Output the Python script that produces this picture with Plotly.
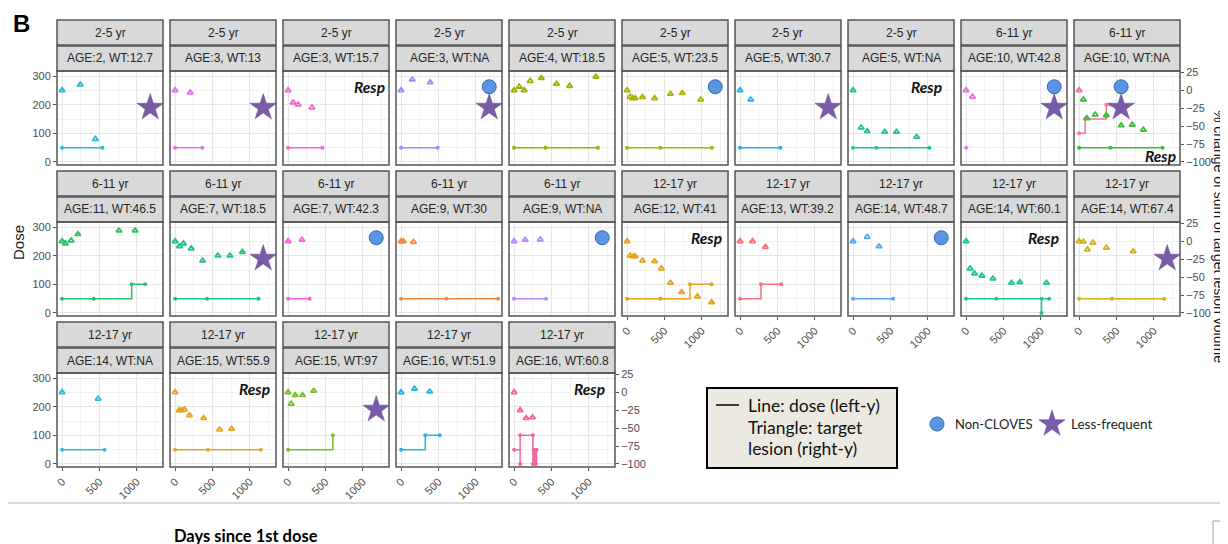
import plotly.graph_objects as go

W, H = 1228, 544

# ---------------- data ----------------
age_groups = ["2-5 yr"] * 8 + ["6-11 yr"] * 7 + ["12-17 yr"] * 10
panel_labels = [
    "AGE:2, WT:12.7", "AGE:3, WT:13", "AGE:3, WT:15.7", "AGE:3, WT:NA", "AGE:4, WT:18.5",
    "AGE:5, WT:23.5", "AGE:5, WT:30.7", "AGE:5, WT:NA", "AGE:10, WT:42.8", "AGE:10, WT:NA",
    "AGE:11, WT:46.5", "AGE:7, WT:18.5", "AGE:7, WT:42.3", "AGE:9, WT:30", "AGE:9, WT:NA",
    "AGE:12, WT:41", "AGE:13, WT:39.2", "AGE:14, WT:48.7", "AGE:14, WT:60.1", "AGE:14, WT:67.4",
    "AGE:14, WT:NA", "AGE:15, WT:55.9", "AGE:15, WT:97", "AGE:16, WT:51.9", "AGE:16, WT:60.8",
]

# one entry per patient series (panel 10 holds two patients)
series_panel = [0, 1, 2, 3, 4, 5, 6, 7, 8, 9, 9,
                10, 11, 12, 13, 14, 15, 16, 17, 18, 19,
                20, 21, 22, 23, 24]
lesion_day = [
    [0, 243, 446], [0, 203], [0, 68, 135, 320], [0, 150, 390],
    [0, 68, 135, 216, 365, 568, 743, 1095],
    [0, 40, 72, 108, 207, 369, 581, 739, 986],
    [0, 144], [0, 108, 189, 423, 581, 851], [0, 86], [0],
    [58, 104, 216, 365, 563, 712, 861],
    [0, 45, 122, 212, 761, 977],
    [0, 58, 112, 216, 369, 572, 734, 901],
    [0, 185], [0, 30, 166], [0, 149, 351],
    [0, 41, 86, 108, 207, 369, 459, 581, 730, 942, 1131],
    [0, 167, 338], [0, 189, 347],
    [0, 54, 113, 212, 360, 608, 720, 1077],
    [0, 58, 112, 185, 365, 725],
    [0, 482], [0, 54, 90, 126, 193, 383, 595, 757], [0, 41, 95, 193, 342],
    [0, 180, 383], [0, 81, 162, 247],
]
lesion_pct = [
    [0, 8, -68], [0, -3], [0, -17, -20, -24], [0, 15, 11],
    [0, 5, 0, 13, 17, 9, 6, 19],
    [0, -9, -11, -11, -9.5, -11, -5, -4, -13],
    [0, -13], [0, -52, -57, -58, -58, -65], [0, -9], [0],
    [-13, -39, -34, -35, -49, -48, -55],
    [0, -3, 1, 10, 15, 15],
    [0, -7, -3, -10, -27, -20, -20, -15],
    [0, 2], [0, 0, -1], [0, 2, 2.5],
    [0, -20, -21, -21, -27, -28, -38, -58, -71, -77, -85],
    [0, 0, -8], [0, 6, -7],
    [0, -38, -45, -48, -52, -58, -57, -58],
    [0, -0.5, -11.5, -2, -9, -14],
    [0, -9], [0, -25, -25, -24, -32, -36, -52, -51], [0, -16, -4, -4, 2],
    [0, 5, 1], [0, -25, -36, -35],
]
dose_day = [
    [0, 540], [0, 365], [0, 460], [0, 490], [0, 420, 1122], [0, 446, 1135],
    [0, 540], [0, 311, 1022], [0], [0, 81, 365, 428], [0, 419, 1118],
    [0, 423, 932, 1112], [0, 428, 1117], [0, 288], [0, 608, 1300], [0, 428],
    [0, 446, 842, 1131], [0, 280, 550], [0, 536], [0, 405, 1010, 1010, 1112],
    [0, 441, 1140],
    [0, 568], [0, 441, 1149], [0, 599], [0, 324, 518],
    [0, 81, 81, 252, 252, 262, 272, 280, 290, 300],
]
dose_mg = [
    [50, 50], [50, 50], [50, 50], [50, 50], [50, 50, 50], [50, 50, 50],
    [50, 50], [50, 50, 50], [50], [100, 150, 200, 200], [50, 50, 50],
    [50, 50, 100, 100], [50, 50, 50], [50, 50], [50, 50, 50], [50, 50],
    [50, 50, 100, 100], [50, 100, 100], [50, 50], [50, 50, 0, 50, 50],
    [50, 50, 50],
    [50, 50], [50, 50, 50], [50, 100], [50, 100, 100],
    [50, 0, 100, 100, 0, 50, 0, 50, 0, 50],
]
series_color = [
    "#1EBFD0", "#E46FEE", "#F564D8", "#9590FF", "#A0AE00", "#AEB200",
    "#22B4EE", "#1CC3A0", "#EE6BE0", "#FB6F9E", "#3DBD3A",
    "#2AC068", "#20C28A", "#FA62D0", "#F4883C", "#B689FF",
    "#E8A020", "#F8717A", "#5AA5F5", "#1CC494", "#D0B020",
    "#2BC0D5", "#E6A528", "#79BE2B", "#27B4EE", "#F5659E",
]

resp_panels = [2, 7, 9, 15, 18, 21, 24]
non_cloves_panels = [3, 5, 8, 9, 12, 14, 17]
less_frequent_panels = [0, 1, 3, 6, 8, 9, 11, 19, 22]

# ---------------- layout geometry (pixels of the target picture) ----------------
OFF = 8  # page body margin
COL_X0, COL_PITCH, PW = 57, 113, 106
ROW_TOP, ROW_PITCH, PH = 71, 151, 94
STRIP_H = 25
DOSE_RANGE = [-10.5, 317.5]
PCT_RANGE = [d / 2.5 - 100 for d in DOSE_RANGE]
X_RANGE = [-68, 1351]

resp_x = {2: 1324, 7: 1216, 9: 1328, 15: 1293, 18: 1270, 21: 1293, 24: 1239}
resp_dose = {9: 21}
marker_day = {9: 563}

GRID = "#E6E6E6"
MINOR = "#F2F2F2"
TICKFONT = dict(family="Liberation Sans, Arial", size=11, color="#4D4D4D")
CAL = "Lato, Carlito, sans-serif"


def fx(px):
    return (px - OFF) / W


def fy(py):
    return 1 - (py - OFF) / H


def sfx(i):
    return "" if i == 1 else str(i)


fig = go.Figure()
layout = {}
shapes = []
annotations = []

for k in range(25):
    row, col = divmod(k, 10)
    x0 = COL_X0 + COL_PITCH * col
    x1 = x0 + PW
    top = ROW_TOP + ROW_PITCH * row
    bot = top + PH
    i = k + 1
    j = k + 26
    show_x = (row == 2) or (row == 1 and col >= 5)
    show_left = col == 0
    show_right = k in (9, 19, 24)
    layout["xaxis" + sfx(i)] = dict(
        domain=[fx(x0), fx(x1)], anchor="y" + sfx(i), range=X_RANGE, automargin=False,
        tickvals=[0, 500, 1000], ticktext=["0", "500", "1000"],
        showticklabels=show_x, tickangle=-45, tickfont=TICKFONT,
        ticks="outside" if show_x else "", ticklen=3, tickcolor="#555",
        showgrid=True, gridcolor=GRID, gridwidth=1, zeroline=False, showline=False,
        minor=dict(tickvals=[250, 750, 1250], showgrid=True, gridcolor=MINOR, gridwidth=1, ticks=""),
        fixedrange=True,
    )
    layout["yaxis" + sfx(i)] = dict(
        domain=[fy(bot), fy(top)], anchor="x" + sfx(i), range=DOSE_RANGE, automargin=False,
        tickvals=[0, 100, 200, 300], showticklabels=show_left, tickfont=TICKFONT,
        ticks="outside" if show_left else "", ticklen=3, tickcolor="#555",
        showgrid=True, gridcolor=GRID, gridwidth=1, zeroline=False, showline=False,
        minor=dict(tickvals=[50, 150, 250], showgrid=True, gridcolor=MINOR, gridwidth=1, ticks=""),
        fixedrange=True,
    )
    layout["yaxis" + str(j)] = dict(
        overlaying="y" + sfx(i), anchor="x" + sfx(i), side="right", range=PCT_RANGE, automargin=False,
        tickvals=[-100, -75, -50, -25, 0, 25], showticklabels=show_right, tickfont=TICKFONT,
        ticks="outside" if show_right else "", ticklen=3, tickcolor="#555",
        showgrid=False, zeroline=False, showline=False, fixedrange=True,
    )
    # strips
    for txt, s_top in [(age_groups[k], top - 2 * STRIP_H - 1), (panel_labels[k], top - STRIP_H)]:
        shapes.append(dict(type="rect", xref="paper", yref="paper",
                           x0=fx(x0), x1=fx(x1), y0=fy(s_top + STRIP_H), y1=fy(s_top),
                           fillcolor="#D9D9D9", line=dict(color="#555555", width=1.5), layer="above"))
        annotations.append(dict(xref="paper", yref="paper", x=fx((x0 + x1) / 2), y=fy(s_top + STRIP_H / 2),
                                text=txt, showarrow=False, xanchor="center", yanchor="middle",
                                font=dict(family="Liberation Sans, Arial", size=12, color="#262626")))
    # panel border
    shapes.append(dict(type="rect", xref="paper", yref="paper",
                       x0=fx(x0), x1=fx(x1), y0=fy(bot), y1=fy(top),
                       line=dict(color="#555555", width=1.5), layer="above"))
    if k in resp_panels:
        annotations.append(dict(xref="x" + sfx(i), yref="y" + sfx(i),
                                x=resp_x[k], y=resp_dose.get(k, 262), text="<b><i>Resp</i></b>",
                                showarrow=False, xanchor="right", yanchor="middle",
                                font=dict(family=CAL, size=15.5, color="#111111")))

# data traces
for s, k in enumerate(series_panel):
    i = k + 1
    c = series_color[s]
    fig.add_trace(go.Scatter(
        x=dose_day[s], y=dose_mg[s], mode="lines+markers",
        line=dict(color=c, width=1.5, shape="hv"), marker=dict(size=4, color=c),
        xaxis="x" + sfx(i), yaxis="y" + sfx(i), hoverinfo="skip"))
for s, k in enumerate(series_panel):
    i = k + 1
    c = series_color[s]
    fig.add_trace(go.Scatter(
        x=lesion_day[s], y=lesion_pct[s], mode="markers",
        marker=dict(symbol="triangle-up-open", size=5, color=c, line=dict(width=1.8, color=c)),
        xaxis="x" + sfx(i), yaxis="y" + str(k + 26), hoverinfo="skip", cliponaxis=False))

# highlight markers (Non-CLOVES circle, Less-frequent star)
CIRCLE = dict(symbol="circle", size=14, color="#5A95E3", line=dict(width=1, color="#3466B2"))
STAR = dict(symbol="star", size=20, color="#7A5BA8", line=dict(width=0.5, color="#6A4C98"))
for k in non_cloves_panels:
    fig.add_trace(go.Scatter(
        x=[marker_day.get(k, 1180)], y=[5], mode="markers", marker=CIRCLE,
        xaxis="x" + sfx(k + 1), yaxis="y" + str(k + 26), hoverinfo="skip", cliponaxis=False))
for k in less_frequent_panels:
    fig.add_trace(go.Scatter(
        x=[marker_day.get(k, 1180)], y=[-24], mode="markers", marker=STAR,
        xaxis="x" + sfx(k + 1), yaxis="y" + str(k + 26), hoverinfo="skip", cliponaxis=False))

# canvas axis for legend glyphs (pixel coordinates of the target picture)
layout["xaxis26"] = dict(domain=[0, 1], range=[OFF, W + OFF], visible=False, anchor="y51",
                         fixedrange=True, automargin=False)
layout["yaxis51"] = dict(domain=[0, 1], range=[H + OFF, OFF], visible=False, anchor="x26",
                         fixedrange=True, automargin=False)

# legend box
shapes.append(dict(type="rect", xref="paper", yref="paper", x0=fx(707), x1=fx(897), y0=fy(468), y1=fy(388),
                   fillcolor="#ECEAE0", line=dict(color="#000000", width=2), layer="above"))
shapes.append(dict(type="line", xref="paper", yref="paper", x0=fx(716), x1=fx(739), y0=fy(405), y1=fy(405),
                   line=dict(color="#000000", width=1.5), layer="above"))
fig.add_trace(go.Scatter(x=[728], y=[428], mode="markers",
                         marker=dict(symbol="triangle-up-open", size=10, color="#000",
                                     line=dict(width=2.6, color="#000")),
                         xaxis="x26", yaxis="y51", hoverinfo="skip", cliponaxis=False))
for txt, yy in [("Line: dose (left-y)", 405), ("Triangle: target", 427), ("lesion (right-y)", 448)]:
    annotations.append(dict(xref="paper", yref="paper", x=fx(746), y=fy(yy), text=txt, showarrow=False,
                            xanchor="left", yanchor="middle",
                            font=dict(family=CAL, size=17.5, color="#111111")))

# Non-CLOVES / Less-frequent legend
fig.add_trace(go.Scatter(x=[937], y=[424], mode="markers", marker=CIRCLE,
                         xaxis="x26", yaxis="y51", hoverinfo="skip", cliponaxis=False))
fig.add_trace(go.Scatter(x=[1052], y=[424], mode="markers", marker=STAR,
                         xaxis="x26", yaxis="y51", hoverinfo="skip", cliponaxis=False))
annotations.append(dict(xref="paper", yref="paper", x=fx(953), y=fy(424), text="Non-CLOVES", showarrow=False,
                        xanchor="left", yanchor="middle",
                        font=dict(family=CAL, size=13, color="#222")))
annotations.append(dict(xref="paper", yref="paper", x=fx(1069), y=fy(424), text="Less-frequent", showarrow=False,
                        xanchor="left", yanchor="middle",
                        font=dict(family=CAL, size=13.5, color="#222")))

# titles and decorations
annotations.append(dict(xref="paper", yref="paper", x=fx(21), y=fy(23), text="<b>B</b>", showarrow=False,
                        xanchor="center", yanchor="middle",
                        font=dict(family="Liberation Sans, Arial", size=24, color="#000")))
annotations.append(dict(xref="paper", yref="paper", x=fx(18), y=fy(243), text="Dose", showarrow=False,
                        textangle=-90, xanchor="center", yanchor="middle",
                        font=dict(family="Liberation Sans, Arial", size=15, color="#1A1A1A")))
annotations.append(dict(xref="paper", yref="paper", x=fx(1219), y=fy(236),
                        text="% change of sum of target lesion volume", showarrow=False,
                        textangle=90, xanchor="center", yanchor="middle",
                        font=dict(family="Liberation Sans, Arial", size=14, color="#1A1A1A")))
annotations.append(dict(xref="paper", yref="paper", x=fx(246), y=fy(536), text="<b>Days since 1st dose</b>",
                        showarrow=False, xanchor="center", yanchor="middle",
                        font=dict(family=CAL, size=16.5, color="#000")))
shapes.append(dict(type="line", xref="paper", yref="paper", x0=0, x1=1, y0=fy(503), y1=fy(503),
                   line=dict(color="#B5B5B5", width=1)))
shapes.append(dict(type="rect", xref="paper", yref="paper", x0=fx(1213), x1=fx(1232), y0=fy(548), y1=fy(521),
                   line=dict(color="#A0A0A0", width=1)))

fig.update_layout(
    width=W, height=H, margin=dict(l=0, r=0, t=0, b=0, pad=0),
    paper_bgcolor="white", plot_bgcolor="rgba(0,0,0,0)", showlegend=False,
    shapes=shapes, annotations=annotations, **layout,
)

fig.write_html("out.html")
